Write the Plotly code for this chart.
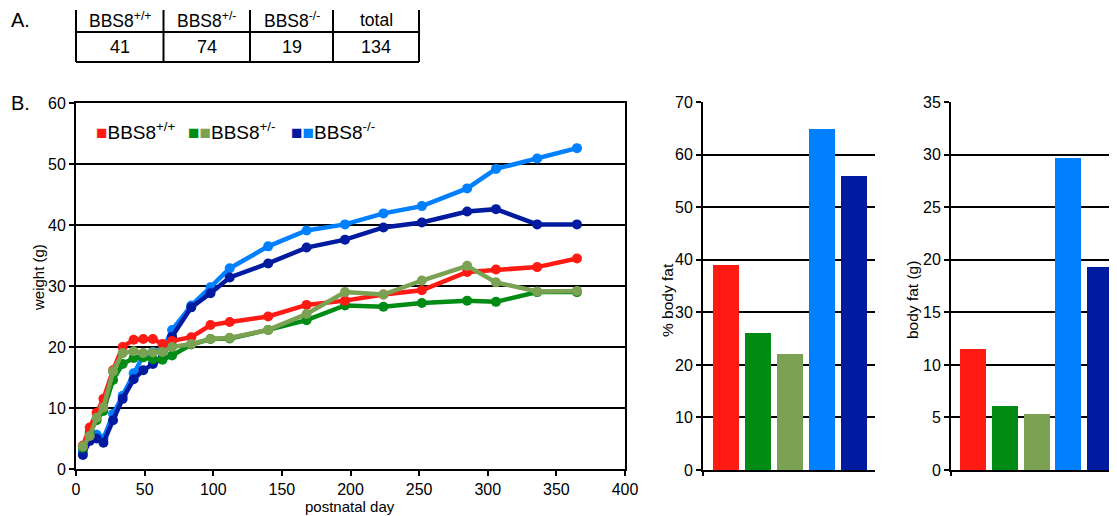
import plotly.graph_objects as go

OFF = 8  # default page body margin
W, H = 1117 - OFF, 516 - OFF
FONT = "Liberation Sans, Arial, sans-serif"

# ---------------- data ----------------
table_headers = ["BBS8<sup>+/+</sup>", "BBS8<sup>+/-</sup>", "BBS8<sup>-/-</sup>", "total"]
table_counts = ["41", "74", "19", "134"]

days = [5, 10, 15, 20, 27, 34, 42, 49, 56, 63, 70, 84, 98, 112, 140, 168, 196, 224, 252, 285, 306, 336, 365]

wt_red = [3.8, 6.8, 9.2, 11.5, 16.2, 20.0, 21.2, 21.3, 21.3, 20.5, 21.0, 21.6, 23.6, 24.1, 25.0, 26.9, 27.6, 28.6, 29.3, 32.3, 32.7, 33.1, 34.5]
wt_dkgreen = [3.5, 6.0, 8.0, 9.5, 14.6, 17.2, 18.2, 18.3, 18.0, 17.9, 18.6, 20.4, 21.3, 21.4, 22.8, 24.4, 26.8, 26.6, 27.2, 27.6, 27.4, 29.0, 29.0]
wt_ltgreen = [3.7, 5.4, 8.4, 10.1, 16.0, 19.0, 19.3, 19.0, 19.1, 19.2, 20.0, 20.5, 21.3, 21.5, 22.8, 25.4, 29.0, 28.6, 30.9, 33.3, 30.6, 29.1, 29.2]
wt_ltblue = [2.8, 5.3, 5.6, 5.0, 9.0, 12.0, 15.7, 18.6, 19.2, 19.5, 22.8, 26.8, 29.8, 32.9, 36.5, 39.1, 40.1, 41.9, 43.1, 46.0, 49.2, 50.9, 52.6]
wt_dkblue = [2.3, 4.6, 5.0, 4.3, 8.0, 11.5, 14.7, 16.2, 17.2, 18.2, 21.7, 26.5, 28.8, 31.4, 33.7, 36.3, 37.6, 39.6, 40.4, 42.2, 42.6, 40.1, 40.1]

bar_groups = ["+/+", "+/- a", "+/- b", "-/- a", "-/- b"]
pct_body_fat = [39.0, 26.0, 22.0, 64.8, 55.9]
body_fat_g = [11.5, 6.1, 5.3, 29.7, 19.3]

RED, DKGREEN, LTGREEN, LTBLUE, DKBLUE = "#ff1a14", "#008c14", "#7ba152", "#0080ff", "#001aa0"
bar_colors = [RED, DKGREEN, LTGREEN, LTBLUE, DKBLUE]

def px(x):
    return (x - OFF) / W

def py(y):
    return 1 - (y - OFF) / H

fig = go.Figure()

# ---------------- line chart ----------------
for vals, col in [(wt_ltblue, LTBLUE), (wt_dkblue, DKBLUE), (wt_dkgreen, DKGREEN),
                  (wt_red, RED), (wt_ltgreen, LTGREEN)]:
    fig.add_trace(go.Scatter(x=days, y=vals, mode="lines+markers",
                             line=dict(color=col, width=4.5),
                             marker=dict(color=col, size=10),
                             showlegend=False, xaxis="x", yaxis="y", cliponaxis=False))

# ---------------- bar charts ----------------
fig.add_trace(go.Bar(x=bar_groups, y=pct_body_fat, marker=dict(color=bar_colors, line=dict(width=0)),
                     width=0.82, showlegend=False, xaxis="x2", yaxis="y2"))
fig.add_trace(go.Bar(x=bar_groups, y=body_fat_g, marker=dict(color=bar_colors, line=dict(width=0)),
                     width=0.82, showlegend=False, xaxis="x3", yaxis="y3"))

tickfont = dict(family=FONT, size=16, color="black")

axis_common = dict(showline=True, linecolor="black", linewidth=2, ticks="outside",
                   tickcolor="black", tickwidth=2, ticklen=5, tickfont=tickfont,
                   zeroline=False, automargin=False)

fig.update_layout(
    template="none",
    width=W, height=H,
    margin=dict(l=0, r=0, t=0, b=0),
    paper_bgcolor="white", plot_bgcolor="white",
    font=dict(family=FONT, color="black"),
    bargap=0,
    xaxis=dict(domain=[px(76), px(625)], range=[0, 400], dtick=50, showgrid=False,
               anchor="y", mirror=True, **axis_common),
    yaxis=dict(domain=[py(469), py(103)], range=[0, 60], dtick=10, showgrid=True,
               gridcolor="black", gridwidth=2,
               anchor="x", mirror=True, **axis_common),
    xaxis2=dict(domain=[px(703), px(875)], range=[-0.72, 4.66], showticklabels=False,
                showgrid=False, anchor="y2", type="category", automargin=False,
                showline=True, linecolor="black", linewidth=2, ticks="", zeroline=False),
    yaxis2=dict(domain=[py(470), py(102.3)], range=[0, 70], dtick=10, showgrid=True,
                gridcolor="black", gridwidth=2,
                anchor="x2", **axis_common),
    xaxis3=dict(domain=[px(951), 1.0], range=[-0.69, 4.53], showticklabels=False,
                showgrid=False, anchor="y3", type="category", automargin=False,
                showline=True, linecolor="black", linewidth=2, ticks="", zeroline=False),
    yaxis3=dict(domain=[py(470), py(102.3)], range=[0, 35], dtick=5, showgrid=True,
                gridcolor="black", gridwidth=2,
                anchor="x3", **axis_common),
)

ann = []
shapes = []

def label(text, x, y, size, angle=0, xanchor="center"):
    ann.append(dict(text=text, x=px(x), y=py(y), xref="paper", yref="paper", showarrow=False,
                    xanchor=xanchor, yanchor="middle", textangle=angle,
                    font=dict(family=FONT, size=size, color="black")))

# axis titles
label("weight (g)", 38, 278, 15, angle=-90)
label("postnatal day", 350, 506, 15)
label("% body fat", 667, 300, 15.5, angle=-90)
label("body fat (g)", 912, 300, 15.5, angle=-90)

# panel letters
label("A.", 9, 20, 20, xanchor="left")
label("B.", 9, 103, 20, xanchor="left")

# table
col_edges = [76, 163.5, 250, 333, 419]
for xe in col_edges:
    shapes.append(dict(type="line", xref="paper", yref="paper", x0=px(xe), x1=px(xe),
                       y0=py(10), y1=py(62), line=dict(color="black", width=2)))
for ye in [32, 62]:
    shapes.append(dict(type="line", xref="paper", yref="paper", x0=px(76), x1=px(419),
                       y0=py(ye), y1=py(ye), line=dict(color="black", width=2)))
for i, (hdr, cnt) in enumerate(zip(table_headers, table_counts)):
    cx = (col_edges[i] + col_edges[i + 1]) / 2
    label(hdr, cx, 20, 17.5)
    label(cnt, cx, 47, 18)

# legend (custom)
sq = "<span style='color:%s'>■</span>"
legend_items = [
    (94, sq % RED + "BBS8<sup>+/+</sup>"),
    (186, sq % DKGREEN + sq % LTGREEN + "BBS8<sup>+/-</sup>"),
    (289, sq % DKBLUE + sq % LTBLUE + "BBS8<sup>-/-</sup>"),
]
for xl, txt in legend_items:
    label(txt, xl, 131, 19, xanchor="left")

# small tick at the bottom-left of each bar chart
for xe in [703, 951]:
    shapes.append(dict(type="line", xref="paper", yref="paper", x0=px(xe), x1=px(xe),
                       y0=py(470), y1=py(476), line=dict(color="black", width=2)))

fig.update_layout(annotations=ann, shapes=shapes)

fig.write_html("out.html")
